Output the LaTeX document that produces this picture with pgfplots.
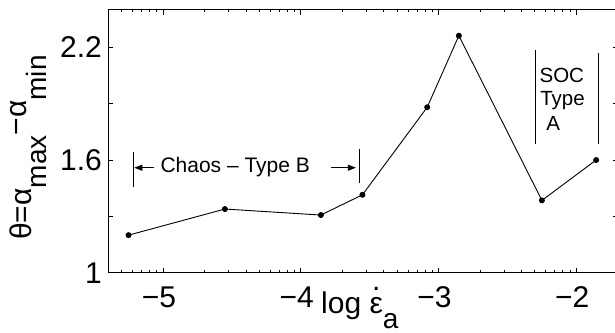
\documentclass[border=0pt]{standalone}
\usepackage{pgfplots}
\pgfplotsset{compat=1.18}
\usepackage{fontspec}
\setmainfont{Liberation Sans}
\usetikzlibrary{arrows.meta}
\newcommand{\sub}[1]{\raisebox{-15pt}{\fontsize{28}{32}\selectfont #1}}
\newcommand{\edot}{\ooalign{ε\cr\hidewidth\raisebox{23pt}{.}\hidewidth\cr}}
\begin{document}
\begin{tikzpicture}
\begin{axis}[
  scale only axis, width=509.5pt, height=262.9pt,
  xmin=-5.4, xmax=-1.7, ymin=1, ymax=2.4,
  xtick={-5,-4,-3,-2}, xticklabels={−5,−4,−3,−2},
  minor xtick={-5.398,-5.301,-5.222,-5.155,-5.097,-5.046,
    -4.699,-4.523,-4.398,-4.301,-4.222,-4.155,-4.097,-4.046,
    -3.699,-3.523,-3.398,-3.301,-3.222,-3.155,-3.097,-3.046,
    -2.699,-2.523,-2.398,-2.301,-2.222,-2.155,-2.097,-2.046},
  ytick={1,1.3,1.6,1.9,2.2}, yticklabels={1,,1.6,,2.2},
  tick align=inside, major tick length=5pt, minor tick length=2.5pt,
  axis line style={line width=0.8pt},
  every tick/.style={line width=0.8pt, black},
  every minor tick/.style={line width=0.7pt, black},
  ticklabel style={font=\fontsize{30}{36}\selectfont},
  xticklabel style={inner sep=0pt, yshift=-14pt, xshift=-4pt},
  yticklabel style={inner sep=0pt, xshift=-6pt},
  clip=false,
]
\coordinate (ll) at (rel axis cs:0,0);
\addplot[black, line width=0.9pt, mark=*, mark size=2.5pt] coordinates {
  (-5.251,1.200) (-4.551,1.339) (-3.854,1.307) (-3.552,1.415)
  (-3.082,1.881) (-2.852,2.262) (-2.249,1.385) (-1.855,1.600)};
% Chaos - Type B annotation
\draw[line width=0.8pt] (axis cs:-5.216,1.458) -- (axis cs:-5.216,1.641);
\draw[line width=0.8pt] (axis cs:-3.574,1.476) -- (axis cs:-3.574,1.659);
\draw[line width=0.8pt, -{Triangle[length=8pt,width=6pt]}] (axis cs:-5.064,1.559) -- (axis cs:-5.209,1.559);
\draw[line width=0.8pt, -{Triangle[length=8pt,width=6pt]}] (axis cs:-3.781,1.559) -- (axis cs:-3.600,1.559);
\node[anchor=base west, inner sep=0pt, font=\fontsize{21}{25}\selectfont] at (axis cs:-5.020,1.532) {Chaos – Type B};
% SOC Type A annotation
\draw[line width=0.8pt] (axis cs:-2.299,1.685) -- (axis cs:-2.299,2.186);
\draw[line width=0.8pt] (axis cs:-1.842,1.685) -- (axis cs:-1.842,2.168);
\node[anchor=base west, inner sep=0pt, font=\fontsize{20.5}{24}\selectfont] at (axis cs:-2.267,2.012) {SOC};
\node[anchor=base west, inner sep=0pt, font=\fontsize{20.5}{24}\selectfont] at (axis cs:-2.262,1.888) {Type};
\node[anchor=base west, inner sep=0pt, font=\fontsize{20.5}{24}\selectfont] at (axis cs:-2.218,1.756) {A};
\end{axis}
\node[rotate=90, anchor=base west, inner sep=0pt, font=\fontsize{30}{36}\selectfont]
  at ([shift={(-76.3pt,32.7pt)}]ll) {θ=α\sub{max}\raisebox{5pt}{−α}\sub{min}};
\node[anchor=base west, inner sep=0pt, font=\fontsize{30}{36}\selectfont]
  at ([shift={(213pt,-40.3pt)}]ll) {log \edot\sub{a}};
\pgfresetboundingbox
\path[use as bounding box] (ll) ++(-108pt,-59.3pt) rectangle ++(615pt,332pt);
\end{tikzpicture}
\end{document}
